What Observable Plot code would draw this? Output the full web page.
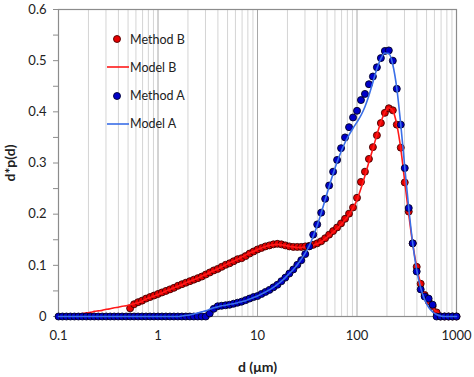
<!DOCTYPE html>
<html>
<head>
<meta charset="utf-8">
<script src="https://cdn.jsdelivr.net/npm/d3@7"></script>
<script src="https://cdn.jsdelivr.net/npm/@observablehq/plot@0.6"></script>
<style>
  html, body { margin: 0; padding: 0; background: #fff; }
  #wrap { position: relative; width: 474px; height: 377px; font-family: Lato, "Liberation Sans", sans-serif; }
  .leg { position: absolute; left: 105px; height: 14px; display: flex; align-items: center; font-size: 12.5px; color: #222; }
  .leg svg { width: 25px; height: 14px; margin-right: 0px; }
  #wrap > svg { position: absolute; left: 0; top: 0; }
</style>
</head>
<body>
<div id="wrap"></div>
<script>
// particle diameter grid (µm)
const d = [
  0.1, 0.1096, 0.1202, 0.1318, 0.1445, 0.1585, 0.1738, 0.1905, 0.2089, 0.2291, 0.2512, 0.2754, 0.3020, 0.3311, 0.3631, 0.3981, 0.4365, 0.4786, 0.5248, 0.5754, 0.6310, 0.6918, 0.7586, 0.8318, 0.9120,
  1, 1.096, 1.202, 1.318, 1.445, 1.585, 1.738, 1.905, 2.089, 2.291, 2.512, 2.754, 3.020, 3.311, 3.631, 3.981, 4.365, 4.786, 5.248, 5.754, 6.310, 6.918, 7.586, 8.318, 9.120,
  10, 10.96, 12.02, 13.18, 14.45, 15.85, 17.38, 19.05, 20.89, 22.91, 25.12, 27.54, 30.20, 33.11, 36.31, 39.81, 43.65, 47.86, 52.48, 57.54, 63.10, 69.18, 75.86, 83.18, 91.20,
  100, 109.6, 120.2, 131.8, 144.5, 158.5, 173.8, 190.5, 208.9, 229.1, 251.2, 275.4, 302.0, 331.1, 363.1, 398.1, 436.5, 478.6, 524.8, 575.4, 631.0, 691.8, 758.6, 831.8, 912.0,
  1000
];

const methodB = [
  null, null, null, null, null, null, null, null, null, null, null, null, null, null, null, null, null, null,
  0.016, 0.024, 0.028, 0.031, 0.035, 0.038, 0.041,
  0.044, 0.047, 0.050, 0.053, 0.056, 0.060, 0.063, 0.066, 0.069, 0.072, 0.075, 0.078, 0.082, 0.086, 0.090, 0.093, 0.097, 0.101, 0.104, 0.108, 0.112, 0.114, 0.118, 0.123, 0.127,
  0.131, 0.134, 0.137, 0.139, 0.141, 0.142, 0.141, 0.139, 0.137, 0.136, 0.136, 0.136, 0.137, 0.138, 0.140, 0.143, 0.147, 0.153, 0.160, 0.167, 0.174, 0.182, 0.191, 0.201, 0.213,
  0.232, 0.263, 0.283, 0.308, 0.331, 0.354, 0.378, 0.398, 0.407, 0.403, 0.375, 0.330, 0.262, 0.205, 0.143, 0.097, 0.064, 0.042, 0.030, 0.020, 0.008, 0, 0, 0, 0,
  0
];

const modelB = [
  0.001, 0.002, 0.002, 0.003, 0.004, 0.005, 0.006, 0.007, 0.008, 0.010, 0.011, 0.012, 0.014, 0.015, 0.017, 0.018, 0.020, 0.021, 0.023, 0.025, 0.027, 0.030, 0.034, 0.037, 0.040,
  0.043, 0.046, 0.050, 0.053, 0.056, 0.059, 0.062, 0.066, 0.069, 0.072, 0.075, 0.079, 0.082, 0.086, 0.090, 0.093, 0.097, 0.101, 0.105, 0.108, 0.112, 0.116, 0.120, 0.124, 0.127,
  0.131, 0.134, 0.137, 0.139, 0.140, 0.141, 0.140, 0.139, 0.137, 0.136, 0.135, 0.135, 0.136, 0.137, 0.139, 0.142, 0.146, 0.152, 0.158, 0.165, 0.172, 0.180, 0.189, 0.199, 0.212,
  0.228, 0.250, 0.275, 0.302, 0.328, 0.355, 0.380, 0.399, 0.408, 0.402, 0.375, 0.328, 0.263, 0.200, 0.142, 0.097, 0.064, 0.043, 0.028, 0.017, 0.009, 0.004, 0.001, 0, 0,
  0
];

const methodA = [
  0, 0, 0, 0, 0, 0, 0, 0, 0, 0, 0, 0, 0, 0, 0, 0, 0, 0, 0, 0, 0, 0, 0, 0, 0,
  0, 0, 0, 0, 0, 0, 0, 0, 0, 0, 0, 0, 0, 0.006, 0.015, 0.020, 0.021, 0.022, 0.023, 0.025, 0.027, 0.029, 0.032, 0.035, 0.038,
  0.040, 0.044, 0.048, 0.052, 0.057, 0.062, 0.069, 0.076, 0.084, 0.092, 0.101, 0.110, 0.122, 0.137, 0.160, 0.180, 0.203, 0.230, 0.256, 0.283, 0.306, 0.329, 0.350, 0.370, 0.389,
  0.402, 0.423, 0.435, 0.454, 0.469, 0.487, 0.505, 0.519, 0.520, 0.500, 0.445, 0.375, 0.290, 0.212, 0.143, 0.088, 0.053, 0.039, 0.035, 0.023, 0, 0, 0, 0, 0,
  0
];

const modelA = [
  0, 0, 0, 0, 0, 0, 0, 0, 0, 0, 0, 0, 0, 0, 0, 0, 0, 0, 0, 0, 0, 0, 0, 0, 0,
  0, 0, 0, 0, 0, 0, 0.001, 0.002, 0.003, 0.005, 0.007, 0.009, 0.011, 0.014, 0.017, 0.019, 0.021, 0.022, 0.024, 0.025, 0.027, 0.029, 0.031, 0.034, 0.037,
  0.040, 0.044, 0.048, 0.052, 0.057, 0.063, 0.069, 0.076, 0.084, 0.092, 0.101, 0.112, 0.124, 0.138, 0.157, 0.178, 0.202, 0.228, 0.254, 0.279, 0.302, 0.322, 0.340, 0.355, 0.368,
  0.380, 0.393, 0.410, 0.432, 0.458, 0.484, 0.504, 0.515, 0.514, 0.492, 0.446, 0.375, 0.292, 0.212, 0.143, 0.091, 0.056, 0.033, 0.018, 0.009, 0.004, 0.001, 0, 0, 0,
  0
];

const xTicks = [0.1, 1, 10, 100, 1000];
const xTickLabels = ["0.1", "1", "10", "100", "1000"];
const xMajorGrid = [1, 10, 100];
const xMinorGrid = [0.2, 0.3, 0.4, 0.5, 0.6, 0.7, 0.8, 0.9, 2, 3, 4, 5, 6, 7, 8, 9, 20, 30, 40, 50, 60, 70, 80, 90, 200, 300, 400, 500, 600, 700, 800, 900];
const yTicks = [0, 0.05, 0.1, 0.15, 0.2, 0.25, 0.3, 0.35, 0.4, 0.45, 0.5, 0.55, 0.6];
const yTickLabels = ["0", "", "0.1", "", "0.2", "", "0.3", "", "0.4", "", "0.5", "", "0.6"];

const legendLabels = ["Method B", "Model B", "Method A", "Model A"];
const legendKinds = ["dot", "line", "dot", "line"];
const legendColors = ["#e60000", "#ff1a1a", "#0000c8", "#3a6fe8"];
const legendStrokes = ["#4d0000", null, "#000033", null];

const rowsB = d.map((v, i) => ({d: v, y: methodB[i]})).filter(r => r.y != null);
const rowsA = d.map((v, i) => ({d: v, y: methodA[i]}));
const mB = d.map((v, i) => ({d: v, y: modelB[i]}));
const mA = d.map((v, i) => ({d: v, y: modelA[i]}));

const labelFor = (vals, labs) => t => {
  const j = vals.findIndex(v => Math.abs(v - t) < 1e-9 * Math.max(1, Math.abs(v)));
  return j < 0 ? "" : labs[j];
};

const chart = Plot.plot({
  width: 474,
  height: 377,
  marginLeft: 58,
  marginRight: 18,
  marginTop: 9,
  marginBottom: 61,
  style: {fontFamily: "Lato, 'Liberation Sans', sans-serif", fontSize: "13px", color: "#222", background: "transparent"},
  x: {type: "log", domain: [0.1, 1000]},
  y: {domain: [0, 0.6]},
  marks: [
    Plot.ruleX(xMinorGrid, {stroke: "#d4d4d4", strokeWidth: 1}),
    Plot.ruleX(xMajorGrid, {stroke: "#a8a8a8", strokeWidth: 1}),
    Plot.frame({stroke: "#8c8c8c", strokeWidth: 1.2}),
    Plot.axisY({ticks: yTicks, tickFormat: labelFor(yTicks, yTickLabels), tickSize: 5, tickPadding: 7, stroke: "#8c8c8c",
      label: "d*p(d)", labelAnchor: "center", labelArrow: "none", labelOffset: 53, fontSize: 13}),
    Plot.axisX({ticks: xTicks, tickFormat: labelFor(xTicks, xTickLabels), tickSize: 0, tickPadding: 14,
      label: "d (μm)", labelAnchor: "center", labelArrow: "none", labelOffset: 55, fontSize: 13}),
    Plot.dot(rowsB, {x: "d", y: "y", r: 3.5, fill: "#e60000", stroke: "#3d0000", strokeWidth: 0.9}),
    Plot.line(mB, {x: "d", y: "y", stroke: "#ff1a1a", strokeWidth: 1.6, curve: "monotone-x"}),
    Plot.dot(rowsA, {x: "d", y: "y", r: 3.5, fill: "#0000c8", stroke: "#000022", strokeWidth: 0.9}),
    Plot.line(mA, {x: "d", y: "y", stroke: "#3a6fe8", strokeWidth: 1.6, curve: "monotone-x"})
  ]
});

// bold axis titles
chart.querySelectorAll("[aria-label='y-axis label'] text, [aria-label='x-axis label'] text").forEach(t => {
  t.setAttribute("font-weight", "bold");
  t.setAttribute("font-size", "14");
});

const wrap = document.getElementById("wrap");
wrap.appendChild(chart);

legendLabels.forEach((lab, i) => {
  const div = document.createElement("div");
  div.className = "leg";
  div.style.top = (32 + i * 28.3) + "px";
  const s = d3.create("svg").attr("viewBox", "0 0 25 14");
  if (legendKinds[i] === "dot") {
    s.append("circle").attr("cx", 12).attr("cy", 7).attr("r", 3.5)
      .attr("fill", legendColors[i]).attr("stroke", legendStrokes[i]).attr("stroke-width", 0.9);
  } else {
    s.append("line").attr("x1", 2).attr("x2", 24).attr("y1", 7).attr("y2", 7)
      .attr("stroke", legendColors[i]).attr("stroke-width", 1.6);
  }
  div.appendChild(s.node());
  const span = document.createElement("span");
  span.textContent = lab;
  div.appendChild(span);
  wrap.appendChild(div);
});
</script>
</body>
</html>
